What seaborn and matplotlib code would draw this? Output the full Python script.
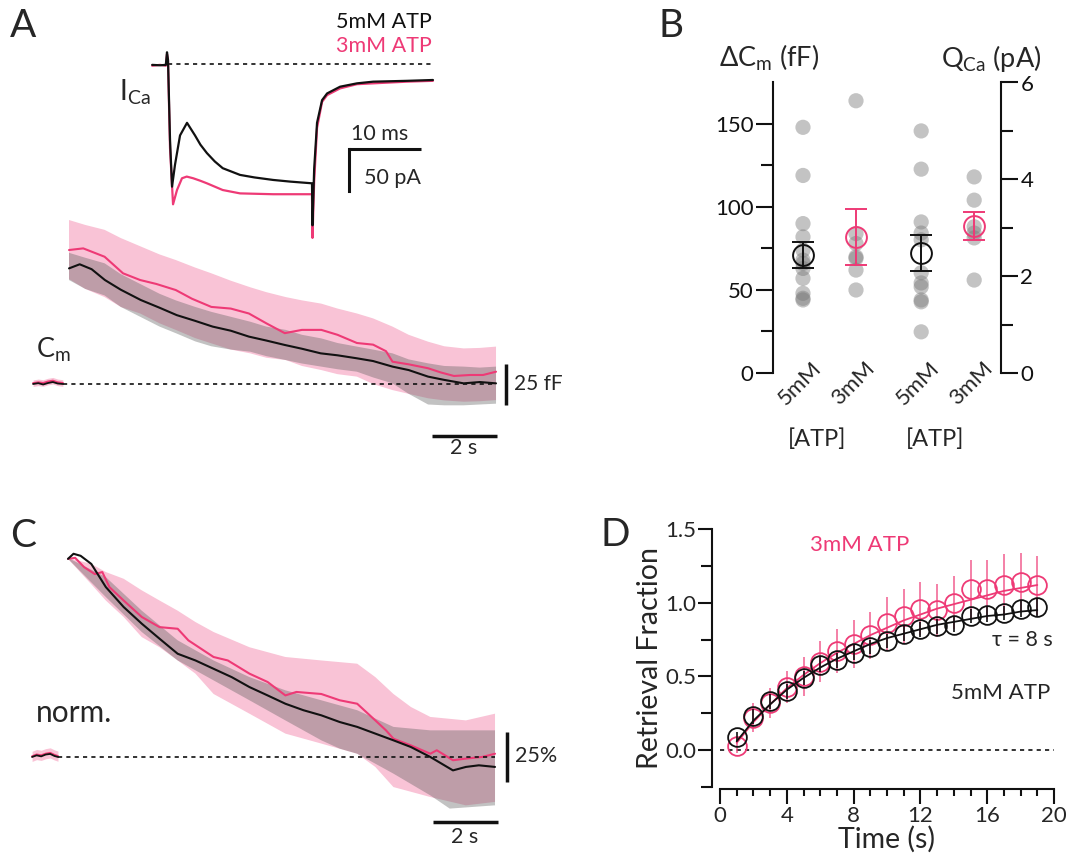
import numpy as np
import matplotlib
matplotlib.use("Agg")
import matplotlib.pyplot as plt
import seaborn as sns
from matplotlib.transforms import ScaledTranslation
from matplotlib.ticker import FixedLocator, MultipleLocator, FormatStrFormatter

sns.set_style("ticks")
plt.rcParams['font.family'] = ['Lato', 'DejaVu Sans']
plt.rcParams['mathtext.fontset'] = 'custom'
plt.rcParams['mathtext.rm'] = 'Lato'
plt.rcParams['mathtext.it'] = 'Lato:italic'
plt.rcParams['mathtext.default'] = 'regular'

# ---------------- DATA ----------------
# Panel A inset: I_Ca traces (time ms, current pA)
ica_t_black = [-2.2, -1.1, -0.3, -0.14, 0.0, 0.28, 0.56, 0.97, 1.67, 2.64, 3.75, 4.5, 5.4, 6.5, 7.6, 8.8,
               10.0, 12.0, 14.6, 17.0, 20.0, 20.07, 20.3, 20.7, 21.4, 22.1, 23.9, 26.25, 28.5, 33.2, 36.8]
ica_black = [-1, -1.5, -1, 14, 5, -90, -146, -120, -85, -70, -85, -96, -106, -116, -124, -128,
             -132, -135, -138, -140, -142, -192, -125, -70, -43, -35, -27, -23, -21, -20, -19]
ica_t_pink = [-2.2, -1.1, -0.3, -0.14, 0.0, 0.28, 0.7, 1.25, 1.94, 2.6, 3.5, 4.5, 5.4, 7.6, 10.0, 14.6,
              20.0, 20.07, 20.3, 20.7, 21.4, 22.1, 23.9, 26.25, 28.5, 33.2, 36.8]
ica_pink = [-2, -1, -2, 12, 4, -100, -167, -150, -136, -134, -136, -139, -142, -150, -154, -155,
            -155, -207, -140, -76, -45, -37, -29, -24, -23, -21, -20]

# Panel A: Cm traces (time s, delta Cm fF)
base_t_a = [-1.11, -0.95, -0.8, -0.65, -0.5, -0.35, -0.19]
base_black_a = [0, 0.5, -0.3, 0.6, 1.2, 0.3, 0]
base_pink_a = [0.5, 1.0, 0.6, 1.5, 2.0, 1.0, 0.6]
cm_t_black = [0, 0.33, 0.7, 1.11, 1.6, 2.22, 2.8, 3.33, 3.9, 4.44, 5.0, 5.56, 6.1, 6.67, 7.2, 7.78,
              8.3, 8.89, 9.4, 10.0, 10.5, 11.1, 11.6, 12.2, 12.7, 13.2]
cm_black = [70.5, 73, 70, 63.4, 57.5, 51.2, 46.5, 42, 38.5, 35, 32.5, 28.9, 26.5, 23.8, 21.5, 18.7,
            17.5, 15.7, 14, 10.6, 8.5, 4.5, 2.5, 0.4, 1.2, 0.4]
cm_t_pink = [0, 0.44, 1.1, 1.67, 2.2, 2.7, 3.3, 3.8, 4.4, 5.0, 5.56, 6.1, 6.67, 7.2, 7.8, 8.3, 8.9,
             9.4, 9.8, 10.0, 10.5, 11.1, 11.5, 11.9, 12.4, 12.8, 13.2]
cm_pink = [81.7, 82.7, 77.6, 67.5, 63.4, 61, 57.3, 52, 47, 46, 43, 37, 31, 33, 33, 30, 25,
           24, 20, 13.6, 12, 9.6, 7, 4.9, 5.5, 5.5, 7.5]
cm_band_t = [0, 0.5, 1.1, 1.6, 2.2, 2.8, 3.3, 3.9, 4.4, 5.0, 5.6, 6.1, 6.7, 7.2, 7.8, 8.3, 8.9,
             9.4, 10.0, 10.5, 11.1, 11.6, 12.2, 12.7, 13.2]
cm_pink_hi = [100, 97, 94, 89, 84, 79, 75.6, 71, 67.5, 63, 59, 56, 53, 51, 49, 46, 43,
              40, 35, 30, 25.8, 23, 21.7, 22, 22.8]
cm_pink_lo = [64, 58, 53, 47, 43, 37, 33, 28, 24.8, 21, 18.7, 16, 14.6, 11, 8.5, 6, 4.5,
              0, -3.7, -6, -8.7, -10, -10.8, -10.5, -9.8]
cm_gray_hi = [80, 77, 73.6, 67, 61, 55, 51, 47, 44, 41, 38, 35, 33, 30, 27.8, 25, 22.8,
              21, 18.7, 15, 12.6, 11, 10.6, 10, 10.6]
cm_gray_lo = [63.4, 58, 54, 47, 41, 35, 31, 26, 23, 21, 19.7, 17, 14.6, 12.5, 10.6, 9, 7.5,
              4, 0.4, -6, -12.5, -13, -13, -12.5, -12]

# Panel B
cm_5mM = [148, 119, 90, 82, 74, 68, 66, 63, 57, 48, 45, 44]
cm_3mM = [164, 84, 78, 70, 69, 62, 50]
qca_5mM = [5.0, 4.21, 3.12, 2.89, 2.75, 2.07, 1.86, 1.78, 1.51, 1.47, 0.85]
qca_3mM = [4.05, 3.57, 3.02, 2.89, 2.79, 1.92]
cm_means = [71, 82]
cm_sems = [8, 17]
qca_means = [2.48, 3.04]
qca_sems = [0.38, 0.29]
b_labels = ["5mM", "3mM", "5mM", "3mM"]

# Panel C: normalized Cm (%)
base_t_c = [-1.11, -0.97, -0.83, -0.69, -0.55, -0.42, -0.31]
base_black_c = [0, 0.8, 0.3, 1.2, 1.5, 0.5, 0]
base_pink_c = [0.3, 1.2, 0.8, 1.6, 2.0, 1.0, 0.4]
nc_t_black = [0, 0.17, 0.39, 0.72, 1.17, 1.72, 2.28, 2.83, 3.39, 3.94, 4.5, 5.06, 5.61, 6.17, 6.72,
              7.28, 7.83, 8.4, 8.94, 9.5, 10.06, 10.6, 11.2, 11.9, 12.3, 12.7, 13.2]
nc_black = [97.5, 100, 99, 95, 83.6, 73.8, 65.6, 58.2, 50.8, 47.5, 43.4, 39.3, 34.4, 30.3, 26.2,
            23, 20.5, 17.2, 14.8, 11.5, 8.2, 4.9, 0, -6.6, -4.9, -4.1, -4.9]
nc_t_pink = [0, 0.22, 0.5, 0.83, 1.06, 1.28, 1.72, 2.28, 2.83, 3.39, 3.72, 4.5, 4.94, 5.61, 6.17,
             6.72, 7.06, 7.83, 8.4, 8.94, 9.5, 9.83, 10.06, 10.6, 11.2, 11.4, 11.9, 12.3, 12.8, 13.2]
nc_pink = [97.5, 98, 93.4, 90, 91, 83.6, 77, 68.9, 63.9, 63.1, 57.4, 49.2, 47.5, 41, 36.9,
           30.3, 32, 31, 27.9, 26.2, 18, 13.1, 9, 5.7, 1.6, 3.3, -1.6, -0.8, 0, 1.6]
nc_pink_hi_t = [0, 0.72, 1.17, 1.72, 2.28, 2.83, 3.39, 3.94, 4.5, 5.61, 6.72, 7.83, 8.94, 9.5, 10.06,
                10.6, 11.2, 12.3, 13.2]
nc_pink_hi = [98, 95, 91, 87.7, 82, 77, 72, 66.4, 61.5, 54, 49.2, 47.5, 45.9, 39.3, 31,
              24.6, 19.7, 18, 21.3]
nc_pink_lo_t = [0, 0.72, 1.17, 1.72, 2.28, 2.83, 3.39, 3.94, 4.5, 5.61, 6.72, 7.83, 8.94, 9.5, 10.06,
                11.2, 12.3, 13.2]
nc_pink_lo = [97.5, 85, 77, 68.9, 59, 54, 47.5, 41, 31, 21.3, 11.5, 6.6, 1.6, -4.9, -14.8,
              -19.7, -23.8, -22.1]
nc_gray_hi_t = [0, 1.17, 2.28, 3.39, 4.5, 5.61, 6.72, 7.83, 8.94, 10.06, 11.2, 12.3, 13.2]
nc_gray_hi = [98, 88.5, 72, 57.4, 47.5, 39.3, 32.8, 27.9, 23, 14.8, 13.1, 13.1, 13.1]
nc_gray_lo_t = [0, 1.17, 2.28, 3.39, 4.5, 5.61, 6.72, 7.83, 8.4, 8.94, 10.06, 11.2, 11.8, 13.2]
nc_gray_lo = [97.5, 78.7, 61.5, 47.5, 37.7, 27.9, 18, 8.2, 4.1, 1.6, -8.2, -18.9, -25.4, -23.8]

# Panel D: retrieval fraction
d_time = list(range(1, 20))
d_black = [0.09, 0.23, 0.33, 0.40, 0.49, 0.58, 0.61, 0.66, 0.70, 0.74, 0.79, 0.82, 0.84, 0.85,
           0.91, 0.92, 0.93, 0.96, 0.97]
d_black_err = [0.03, 0.05, 0.05, 0.05, 0.05, 0.05, 0.05, 0.05, 0.05, 0.05, 0.05, 0.05, 0.05, 0.05,
               0.05, 0.05, 0.05, 0.06, 0.06]
d_pink = [0.03, 0.22, 0.32, 0.43, 0.50, 0.60, 0.67, 0.72, 0.78, 0.86, 0.91, 0.96, 0.95, 1.00,
          1.09, 1.09, 1.12, 1.14, 1.12]
d_pink_err = [0.05, 0.10, 0.10, 0.11, 0.13, 0.14, 0.15, 0.16, 0.16, 0.18, 0.18, 0.18, 0.18, 0.18,
              0.20, 0.20, 0.21, 0.20, 0.20]
d_fit_black = [0.06, 0.20, 0.31, 0.41, 0.49, 0.56, 0.62, 0.67, 0.72, 0.76, 0.79, 0.82, 0.85, 0.87,
               0.89, 0.91, 0.92, 0.94, 0.95]
d_fit_pink = [0.05, 0.19, 0.31, 0.42, 0.51, 0.59, 0.66, 0.72, 0.78, 0.83, 0.88, 0.92, 0.96, 0.99,
              1.02, 1.05, 1.08, 1.10, 1.12]

# ---------------- STYLE ----------------
PINK = '#EE3A76'
PINK_FILL = '#F9C3D6'
BLACK = '#111111'
GRAYB = '#5f5f5f'
DOT = '#7a7a7a'

W, H = 1068, 863
fig = plt.figure(figsize=(W / 100, H / 100), dpi=100)


def add_ax(x0, y0, x1, y1):
    return fig.add_axes([x0 / W, 1 - y1 / H, (x1 - x0) / W, (y1 - y0) / H])


def ftext(x, y, s, **kw):
    fig.text(x / W, 1 - y / H, s, **kw)


def line(ax, x, y, color, lw=1.5, **kw):
    sns.lineplot(x=x, y=y, ax=ax, color=color, lw=lw, estimator=None, sort=False,
                 legend=False, **kw)


def band(ax, tx_hi, hi, tx_lo, lo, **kw):
    xs = list(tx_hi) + list(tx_lo)[::-1]
    ys = list(hi) + list(lo)[::-1]
    ax.fill(xs, ys, lw=0, **kw)


# ---------------- Panel A inset ----------------
ax_i = add_ax(140, 40, 440, 250)
ax_i.set_xlim(-3.89, 37.78)
ax_i.set_ylim(-221.4, 28.6)
ax_i.axis('off')
ax_i.plot([0, 36.8], [0, 0], color=BLACK, lw=1.2, dashes=(2.5, 2.5))
line(ax_i, ica_t_pink, ica_pink, PINK, lw=1.6)
line(ax_i, ica_t_black, ica_black, BLACK, lw=1.6)
ax_i.plot([25.14, 35.14], [-101.2, -101.2], color=BLACK, lw=2.2, solid_capstyle='butt')
ax_i.plot([25.14, 25.14], [-101.2, -151.2], color=BLACK, lw=2.2, solid_capstyle='projecting')

ftext(10, 8, "A", fontsize=28, va='top', ha='left')
ftext(432, 22, "5mM ATP", fontsize=15.5, color=BLACK, ha='right', va='center')
ftext(432, 46, "3mM ATP", fontsize=15.5, color=PINK, ha='right', va='center')
ftext(119, 92, r"I$_{\mathrm{Ca}}$", fontsize=20, ha='left', va='center')
ftext(380, 134, "10 ms", fontsize=15.5, ha='center', va='center')
ftext(392, 178, "50 pA", fontsize=15.5, ha='center', va='center')

# ---------------- Panel A Cm ----------------
ax_a = add_ax(20, 200, 560, 470)
ax_a.set_xlim(-1.515, 15.178)
ax_a.set_ylim(-52.44, 112.2)
ax_a.axis('off')
band(ax_a, cm_band_t, cm_pink_hi, cm_band_t, cm_pink_lo, color=PINK_FILL)
ax_a.fill_between(base_t_a, [v - 2 for v in base_pink_a], [v + 2 for v in base_pink_a],
                  color=PINK_FILL, lw=0)
line(ax_a, cm_t_pink, cm_pink, PINK, lw=1.5)
line(ax_a, base_t_a, base_pink_a, PINK, lw=1.5)
band(ax_a, cm_band_t, cm_gray_hi, cm_band_t, cm_gray_lo, color=GRAYB, alpha=0.38)
line(ax_a, cm_t_black, cm_black, BLACK, lw=1.5)
line(ax_a, base_t_a, base_black_a, BLACK, lw=1.3)
ax_a.plot([-0.19, 13.2], [0, 0], color=BLACK, lw=1.2, dashes=(2.5, 2.5))
ax_a.plot([11.22, 13.22], [-31.7, -31.7], color=BLACK, lw=2.5, solid_capstyle='butt')
ax_a.plot([13.51, 13.51], [-12.5, 12.5], color=BLACK, lw=2.5, solid_capstyle='butt')
ftext(36, 350, r"C$_{\mathrm{m}}$", fontsize=19.5, ha='left', va='center')
ftext(514, 384, "25 fF", fontsize=15, ha='left', va='center')
ftext(464, 448, "2 s", fontsize=15.5, ha='center', va='center')

# ---------------- Panel B ----------------
ax_b = add_ax(773, 82.5, 1001, 373)
pos = [0, 1, 2.23, 3.23]
ax_b.set_xlim(-0.566, 3.736)
ax_b.set_ylim(0, 175)
ax2 = ax_b.twinx()
ax2.set_ylim(0, 6)

sns.scatterplot(x=[pos[0]] * len(cm_5mM), y=cm_5mM, ax=ax_b, color=DOT, alpha=0.45, s=120,
                edgecolor='none', legend=False)
sns.scatterplot(x=[pos[1]] * len(cm_3mM), y=cm_3mM, ax=ax_b, color=DOT, alpha=0.45, s=120,
                edgecolor='none', legend=False)
sns.scatterplot(x=[pos[2]] * len(qca_5mM), y=qca_5mM, ax=ax2, color=DOT, alpha=0.45, s=120,
                edgecolor='none', legend=False)
sns.scatterplot(x=[pos[3]] * len(qca_3mM), y=qca_3mM, ax=ax2, color=DOT, alpha=0.45, s=120,
                edgecolor='none', legend=False)
for i, c in enumerate([BLACK, PINK]):
    ax_b.errorbar(pos[i], cm_means[i], yerr=cm_sems[i], fmt='o', mfc='none', mec=c, ms=15,
                  mew=1.4, ecolor=c, elinewidth=1.4, capsize=8, capthick=1.4)
    ax2.errorbar(pos[2 + i], qca_means[i], yerr=qca_sems[i], fmt='o', mfc='none', mec=c, ms=15,
                 mew=1.4, ecolor=c, elinewidth=1.4, capsize=8, capthick=1.4)

for s in ['top', 'right', 'bottom']:
    ax_b.spines[s].set_visible(False)
for s in ['top', 'left', 'bottom']:
    ax2.spines[s].set_visible(False)
ax_b.spines['left'].set_linewidth(1.5)
ax_b.spines['left'].set_color(BLACK)
ax2.spines['right'].set_linewidth(1.5)
ax2.spines['right'].set_color(BLACK)
ax_b.yaxis.set_major_locator(FixedLocator([0, 50, 100, 150]))
ax_b.yaxis.set_minor_locator(FixedLocator([25, 75, 125]))
ax2.yaxis.set_major_locator(FixedLocator([0, 2, 4, 6]))
ax2.yaxis.set_minor_locator(FixedLocator([1, 3, 5]))
for a in (ax_b, ax2):
    a.tick_params(axis='y', which='major', length=12, width=1.5, labelsize=16, pad=2,
                  color=BLACK, labelcolor=BLACK)
    a.tick_params(axis='y', which='minor', length=8.5, width=1.5, color=BLACK)
    a.set_ylabel('')
ax_b.set_xticks(pos)
ax_b.set_xticklabels(b_labels, rotation=45, ha='right', va='center', rotation_mode='anchor',
                     fontsize=16)
ax_b.tick_params(axis='x', length=0, pad=1)
for lab in ax_b.get_xticklabels():
    lab.set_transform(lab.get_transform() + ScaledTranslation(0.15, 0.09, fig.dpi_scale_trans))

ftext(658, 8, "B", fontsize=28, va='top', ha='left')
ftext(719, 58, r"ΔC$_{\mathrm{m}}$ (fF)", fontsize=19.5, ha='left', va='center')
ftext(941, 58, r"Q$_{\mathrm{Ca}}$ (pA)", fontsize=19.5, ha='left', va='center')
ftext(817, 439, "[ATP]", fontsize=17, ha='center', va='center')
ftext(935, 439, "[ATP]", fontsize=17, ha='center', va='center')

# ---------------- Panel C ----------------
ax_c = add_ax(20, 530, 560, 860)
ax_c.set_xlim(-1.484, 15.209)
ax_c.set_ylim(-50.7, 111.7)
ax_c.axis('off')
band(ax_c, nc_pink_hi_t, nc_pink_hi, nc_pink_lo_t, nc_pink_lo, color=PINK_FILL)
ax_c.fill_between(base_t_c, [v - 2.5 for v in base_pink_c], [v + 2.5 for v in base_pink_c],
                  color=PINK_FILL, lw=0)
line(ax_c, nc_t_pink, nc_pink, PINK, lw=1.5)
line(ax_c, base_t_c, base_pink_c, PINK, lw=1.5)
band(ax_c, nc_gray_hi_t, nc_gray_hi, nc_gray_lo_t, nc_gray_lo, color=GRAYB, alpha=0.38)
line(ax_c, nc_t_black, nc_black, BLACK, lw=1.5)
line(ax_c, base_t_c, base_black_c, BLACK, lw=1.3)
ax_c.plot([-0.31, 13.2], [0, 0], color=BLACK, lw=1.2, dashes=(2.5, 2.5))
ax_c.plot([11.28, 13.28], [-32, -32], color=BLACK, lw=2.5, solid_capstyle='butt')
ax_c.plot([13.57, 13.57], [-12.5, 12.5], color=BLACK, lw=2.5, solid_capstyle='butt')
ftext(10, 518, "C", fontsize=28, va='top', ha='left')
ftext(36, 713, "norm.", fontsize=21.5, ha='left', va='center')
ftext(515, 756, "25%", fontsize=15.5, ha='left', va='center')
ftext(465, 837, "2 s", fontsize=15.5, ha='center', va='center')

# ---------------- Panel D ----------------
ax_d = add_ax(720, 529, 1054, 787)
ax_d.set_xlim(0, 20)
ax_d.set_ylim(-0.25, 1.5)
ax_d.plot([0, 20], [0, 0], color=BLACK, lw=1.2, dashes=(2.5, 2.5))
ax_d.errorbar(d_time, d_pink, yerr=d_pink_err, fmt='none', ecolor=PINK, elinewidth=1.2,
              alpha=0.75, capsize=0)
line(ax_d, d_time, d_fit_pink, PINK, lw=1.3)
ax_d.plot(d_time, d_pink, 'o', mfc='none', mec=PINK, ms=13.5, mew=1.3)
ax_d.errorbar(d_time, d_black, yerr=d_black_err, fmt='none', ecolor=BLACK, elinewidth=1.2,
              capsize=0)
line(ax_d, d_time, d_fit_black, BLACK, lw=1.3)
ax_d.plot(d_time, d_black, 'o', mfc='none', mec=BLACK, ms=13.5, mew=1.3)
sns.despine(ax=ax_d)
ax_d.spines['left'].set_position(('outward', 6))
ax_d.spines['bottom'].set_position(('outward', 1.5))
for s in ['left', 'bottom']:
    ax_d.spines[s].set_linewidth(1.5)
    ax_d.spines[s].set_color(BLACK)
ax_d.xaxis.set_major_locator(MultipleLocator(4))
ax_d.xaxis.set_minor_locator(MultipleLocator(1))
ax_d.yaxis.set_major_locator(FixedLocator([0, 0.5, 1.0, 1.5]))
ax_d.yaxis.set_minor_locator(FixedLocator([-0.25, 0.25, 0.75, 1.25]))
ax_d.yaxis.set_major_formatter(FormatStrFormatter('%.1f'))
ax_d.tick_params(axis='x', which='major', length=11, width=1.5, labelsize=16, pad=1, color=BLACK)
ax_d.tick_params(axis='x', which='minor', length=5, width=1.5, color=BLACK)
ax_d.tick_params(axis='y', which='major', length=10, width=1.5, labelsize=16, pad=1, color=BLACK)
ax_d.tick_params(axis='y', which='minor', length=8, width=1.5, color=BLACK)
ax_d.set_xlabel("Time (s)", fontsize=20.5, labelpad=0)
ax_d.set_ylabel("Retrieval Fraction", fontsize=20.5, labelpad=2)
ftext(601, 517, "D", fontsize=28, va='top', ha='left')
ftext(860, 545, "3mM ATP", fontsize=16, color=PINK, ha='center', va='center')
ftext(1053, 640, "τ = 8 s", fontsize=15.5, ha='right', va='center')
ftext(1050, 693, "5mM ATP", fontsize=16, ha='right', va='center')

fig.savefig("out.png", dpi=100)
